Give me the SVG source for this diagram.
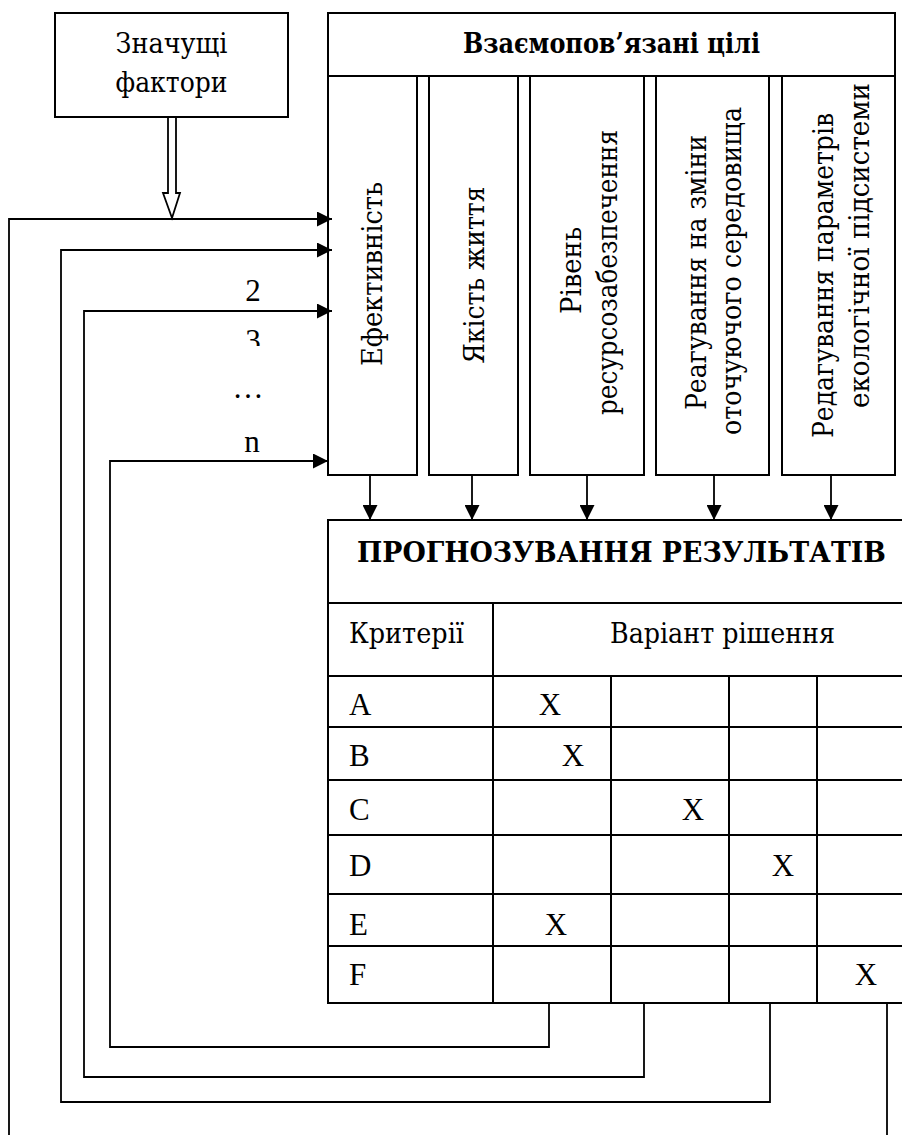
<svg xmlns="http://www.w3.org/2000/svg" width="902" height="1135" viewBox="0 0 902 1135">
<style>
text{font-family:"Liberation Serif","Times New Roman",serif;fill:#000;font-size:31px}
.c{font-family:"DejaVu Serif","Liberation Serif",serif;font-size:28px}
.b{font-weight:bold}
.m{text-anchor:middle}
.e{text-anchor:end}
.box{fill:#fff;stroke:#000;stroke-width:2}
.ln{fill:none;stroke:#000;stroke-width:2}
.cn{fill:none;stroke:#000;stroke-width:1.8}
</style>
<defs>
<marker id="ah" markerUnits="userSpaceOnUse" markerWidth="15" markerHeight="15" refX="15" refY="7.5" orient="auto" viewBox="0 0 15 15">
<path d="M0,0 L15,7.5 L0,15 Z" fill="#000"/>
</marker>
<clipPath id="clip3"><rect x="200" y="315" width="100" height="31"/></clipPath>
</defs>
<rect width="902" height="1135" fill="#fff"/>

<g id="factors">
<rect class="box" x="55" y="13" width="233" height="104"/>
<text class="c m" x="171.5" y="53" textLength="112" lengthAdjust="spacingAndGlyphs">Значущі</text>
<text class="c m" x="171.5" y="92" textLength="112" lengthAdjust="spacingAndGlyphs">фактори</text>
</g>

<g id="goals">
<rect class="box" x="328" y="13" width="567" height="63"/>
<text class="c b m" x="611.5" y="53" textLength="297" lengthAdjust="spacingAndGlyphs">Взаємопов’язані цілі</text>
</g>
<g id="col1">
<rect class="box" x="328" y="76" width="89" height="399"/>
<text class="c m" transform="translate(382,274) rotate(-90)" textLength="184" lengthAdjust="spacingAndGlyphs">Ефективність</text>
</g>
<g id="col2">
<rect class="box" x="429" y="76" width="89" height="399"/>
<text class="c m" transform="translate(484,275) rotate(-90)" textLength="177" lengthAdjust="spacingAndGlyphs">Якість життя</text>
</g>
<g id="col3">
<rect class="box" x="530" y="76" width="114" height="399"/>
<text class="c e" transform="translate(581,227) rotate(-90)" textLength="87" lengthAdjust="spacingAndGlyphs">Рівень</text>
<text class="c e" transform="translate(617,130) rotate(-90)" textLength="285" lengthAdjust="spacingAndGlyphs">ресурсозабезпечення</text>
</g>
<g id="col4">
<rect class="box" x="656" y="76" width="113" height="399"/>
<text class="c e" transform="translate(706,135) rotate(-90)" textLength="275" lengthAdjust="spacingAndGlyphs">Реагування на зміни</text>
<text class="c e" transform="translate(741,107) rotate(-90)" textLength="328" lengthAdjust="spacingAndGlyphs">оточуючого середовища</text>
</g>
<g id="col5">
<rect class="box" x="782" y="76" width="113" height="399"/>
<text class="c e" transform="translate(833,113) rotate(-90)" textLength="325" lengthAdjust="spacingAndGlyphs">Редагування параметрів</text>
<text class="c e" transform="translate(869,83) rotate(-90)" textLength="325" lengthAdjust="spacingAndGlyphs">екологічної підсистеми</text>
</g>

<g id="forecast">
<path class="ln" d="M902,520 H328 V1003 H902 M328,603 H902 M328,676 H902 M328,727 H902 M328,780 H902 M328,835 H902 M328,894 H902 M328,946 H902 M493,603 V1003 M611,676 V1003 M729,676 V1003 M817,676 V1003"/>
<text class="c b m" x="621.5" y="562" font-size="27" textLength="529" lengthAdjust="spacingAndGlyphs">ПРОГНОЗУВАННЯ РЕЗУЛЬТАТІВ</text>
<text class="c" x="349" y="643" textLength="115" lengthAdjust="spacingAndGlyphs">Критерії</text>
<text class="c" x="610" y="643" textLength="225" lengthAdjust="spacingAndGlyphs">Варіант рішення</text>
<text x="349" y="715">A</text>
<text x="349" y="766">B</text>
<text x="349" y="820">C</text>
<text x="349" y="876">D</text>
<text x="349" y="935">E</text>
<text x="349" y="985">F</text>
<text class="m" x="550" y="715">X</text>
<text class="m" x="573" y="766">X</text>
<text class="m" x="693" y="820">X</text>
<text class="m" x="783" y="876">X</text>
<text class="m" x="556" y="935">X</text>
<text class="m" x="866" y="985">X</text>
</g>

<g id="connectors">
<polygon points="168,117 176,117 176,193 180,193 172,218 163,193 168,193" fill="#fff" stroke="#000" stroke-width="1.8"/>
<path class="cn" d="M370,475 V520" marker-end="url(#ah)"/>
<path class="cn" d="M472,475 V520" marker-end="url(#ah)"/>
<path class="cn" d="M587,475 V520" marker-end="url(#ah)"/>
<path class="cn" d="M714,475 V520" marker-end="url(#ah)"/>
<path class="cn" d="M831,475 V520" marker-end="url(#ah)"/>
<path class="cn" d="M887,1003 V1135"/>
<path class="cn" d="M9,1135 V219 H332" marker-end="url(#ah)"/>
<path class="cn" d="M770,1003 V1102 H61 V250 H332" marker-end="url(#ah)"/>
<path class="cn" d="M644,1003 V1077 H84 V311 H332" marker-end="url(#ah)"/>
<path class="cn" d="M549,1003 V1047 H110 V461 H328" marker-end="url(#ah)"/>
</g>

<g id="labels">
<text class="m" x="253" y="301" font-size="30">2</text>
<text class="m" x="253" y="351" font-size="30" clip-path="url(#clip3)">3</text>
<text class="m" x="248" y="398" font-size="30">…</text>
<text class="m" x="252" y="452" font-size="30">n</text>
</g>
</svg>
